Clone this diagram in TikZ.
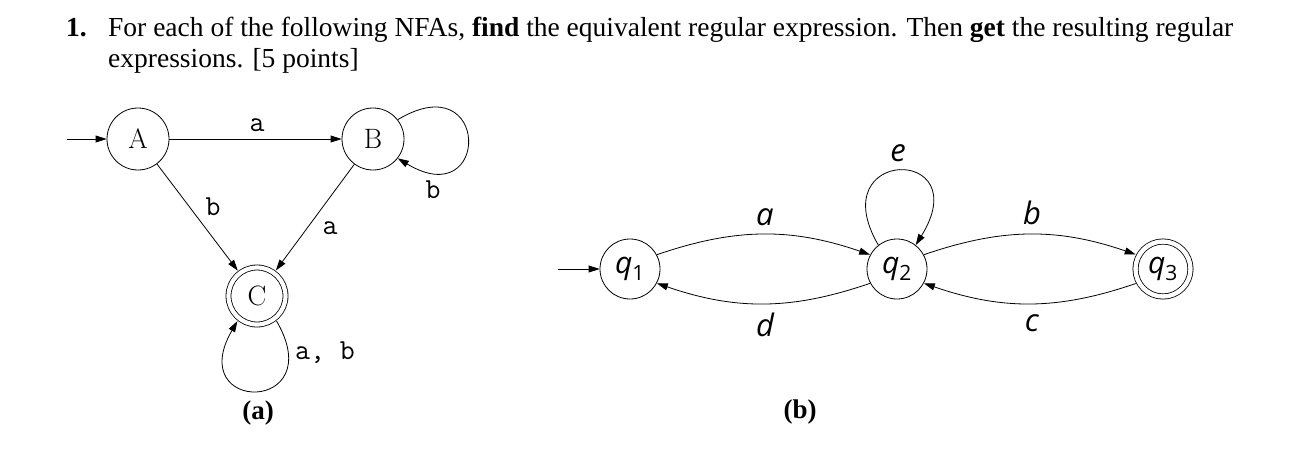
\documentclass[tikz,border=0pt]{standalone}
\usepackage{fontspec}
\newfontfamily\timesf{Liberation Serif}
\newfontfamily\gothf{Open Sans}
\usetikzlibrary{arrows.meta}
\begin{document}
\begin{tikzpicture}[x=1pt,y=1pt,
  st/.style={circle, draw, line width=0.8pt, minimum size=62pt, inner sep=0pt, font=\fontsize{28}{30}\selectfont},
  acc/.style={double, double distance=4.2pt, minimum size=57pt, outer sep=3.3pt},
  qst/.style={circle, draw, line width=0.8pt, minimum size=60pt, inner sep=0pt, font=\gothf\itshape\fontsize{30}{30}\selectfont},
  qacc/.style={double, double distance=4.4pt, minimum size=55pt, outer sep=3.4pt},
  lab/.style={font=\ttfamily\fontsize{29}{29}\selectfont, inner sep=0pt},
  glab/.style={font=\gothf\itshape\fontsize{31}{31}\selectfont, inner sep=0pt},
  ttl/.style={font=\timesf\fontsize{27.5}{31}\selectfont, inner sep=0pt, anchor=base west},
  captxt/.style={font=\timesf\bfseries\fontsize{27}{31}\selectfont, inner sep=0pt},
  edge/.style={line width=0.8pt, -{Triangle[length=11pt,width=7pt]}}
]
\useasboundingbox (0,0) rectangle (1315,451);
% title
\node[ttl] (num) at (66,414) {\bfseries 1.};
\node[ttl] (line1) at (108,414) {For each of the following NFAs, \textbf{find} the equivalent regular expression. Then \textbf{get} the resulting regular};
\node[ttl] (line2) at (108,384) {expressions. [5 points]};
% (a)
\node[st] (A) at (138,312) {A};
\node[st] (B) at (373,312) {B};
\node[st,acc] (C) at (257,155) {C};
\coordinate (startA) at (67,312);
\draw[edge] (startA) -- (A);
\draw[edge] (A) -- (B);
\draw[edge] (A) -- (C);
\draw[edge] (B) -- (C);
\draw[edge] (B.38) .. controls +(93,56) and +(93,-56) .. (B.-38);
\draw[edge] (C.-52) .. controls +(54,-93) and +(-54,-93) .. (C.-128);
\node[lab] (la1) at (257,326) {a};
\node[lab] (lb1) at (433,261) {b};
\node[lab] (lb2) at (213,244) {b};
\node[lab] (la2) at (330,223) {a};
\node[lab, anchor=west] (lab3) at (295,98) {a, b};
\node[captxt] (capa) at (258,38) {(a)};
% (b)
\node[qst] (q1) at (630,182) {q\textsubscript{\upshape 1}};
\node[qst] (q2) at (897,182) {q\textsubscript{\upshape 2}};
\node[qst,qacc] (q3) at (1163,182) {q\textsubscript{\upshape 3}};
\coordinate (startq) at (558,182);
\draw[edge] (startq) -- (q1);
\draw[edge] (q1.28) to[out=19,in=161] (q2.152);
\draw[edge] (q2.-152) to[out=-161,in=-19] (q1.-28);
\draw[edge] (q2.28) to[out=19,in=161] (q3.152);
\draw[edge] (q3.-152) to[out=-161,in=-19] (q2.-28);
\draw[edge] (q2.128) .. controls +(-57,98) and +(62,100) .. (q2.52);
\node[glab] (le) at (898,298) {e};
\node[glab] (la3) at (765,234) {a};
\node[glab] (ld) at (765,126) {d};
\node[glab] (lb3) at (1032,238) {b};
\node[glab] (lc) at (1032,128) {c};
\node[captxt] (capb) at (800,39) {(b)};
\end{tikzpicture}
\end{document}
